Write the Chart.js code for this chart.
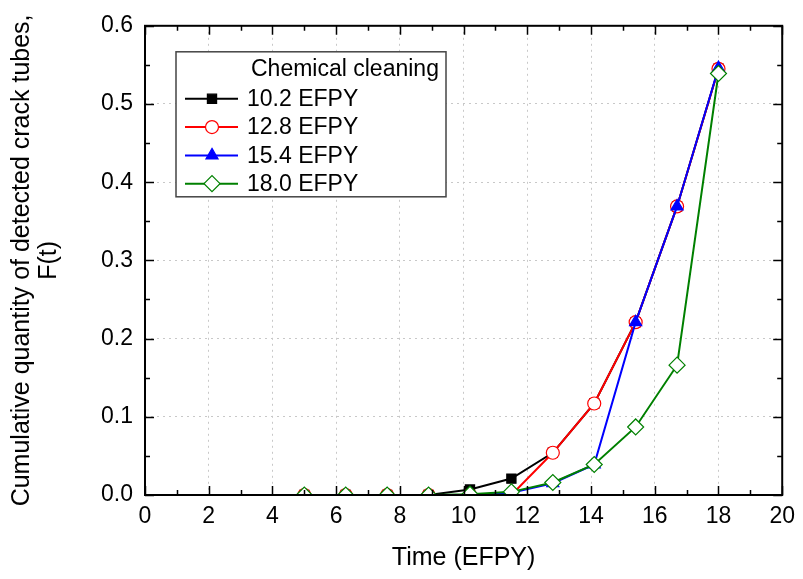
<!DOCTYPE html>
<html>
<head>
<meta charset="utf-8">
<script src="https://cdn.jsdelivr.net/npm/chart.js@4/dist/chart.umd.min.js"></script>
<style>
  body { margin: 0; background: #fff; }
  canvas { display: block; }
</style>
</head>
<body>
<canvas id="chart" width="803" height="579"></canvas>
<script>
// --- Data ---
const timeEfpy = [5.0, 6.3, 7.6, 8.9, 10.2, 11.5, 12.8, 14.1, 15.4, 16.7, 18.0];
const clean102 = [0, 0, 0, 0, 0.007, 0.021, 0.054, 0.117, 0.221, 0.369, 0.545];
const clean128 = [0, 0, 0, 0, 0, 0.000, 0.054, 0.117, 0.221, 0.369, 0.545];
const clean154 = [0, 0, 0, 0, 0, 0.003, 0.015, 0.039, 0.221, 0.369, 0.546];
const clean180 = [0, 0, 0, 0, 0.001, 0.004, 0.016, 0.039, 0.087, 0.166, 0.539];
const xTicks = [0, 2, 4, 6, 8, 10, 12, 14, 16, 18, 20];
const yTicks = [0.0, 0.1, 0.2, 0.3, 0.4, 0.5, 0.6];

const FONT = "'Liberation Sans', Arial, sans-serif";

const toPoints = vals => vals.map((v, i) => ({ x: timeEfpy[i], y: v }));

// Frame + inward ticks on all four sides
const frameTicks = {
  id: 'frameTicks',
  afterDraw(chart) {
    const { ctx, chartArea: a, scales: { x, y } } = chart;
    ctx.save();
    ctx.strokeStyle = '#000';
    ctx.lineWidth = 1.5;
    ctx.beginPath();
    // x: major every 2, minor every 1
    for (let v = 0; v <= 20; v += 1) {
      const px = Math.round(x.getPixelForValue(v)) + 0.5;
      const len = v % 2 === 0 ? 9 : 5;
      ctx.moveTo(px, a.bottom); ctx.lineTo(px, a.bottom - len);
      ctx.moveTo(px, a.top); ctx.lineTo(px, a.top + len);
    }
    // y: major every 0.1, minor every 0.05
    for (let k = 0; k <= 12; k++) {
      const py = Math.round(y.getPixelForValue(k * 0.05)) + 0.5;
      const len = k % 2 === 0 ? 9 : 5;
      ctx.moveTo(a.left, py); ctx.lineTo(a.left + len, py);
      ctx.moveTo(a.right, py); ctx.lineTo(a.right - len, py);
    }
    ctx.stroke();
    ctx.lineWidth = 2;
    ctx.strokeRect(a.left, a.top, a.right - a.left, a.bottom - a.top);
    ctx.restore();
  }
};

// Boxed legend inside the plot, with a title
const boxLegend = {
  id: 'boxLegend',
  afterDraw(chart) {
    const { ctx, chartArea: a } = chart;
    const bx = a.left + 31, by = a.top + 26, bw = 270, bh = 145;
    ctx.save();
    ctx.fillStyle = '#fff';
    ctx.fillRect(bx, by, bw, bh);
    ctx.strokeStyle = '#444';
    ctx.lineWidth = 1.5;
    ctx.strokeRect(bx, by, bw, bh);
    ctx.fillStyle = '#000';
    ctx.font = '23px ' + FONT;
    ctx.textBaseline = 'middle';
    ctx.fillText('Chemical cleaning', bx + 75, by + 18);
    chart.data.datasets.forEach((ds, i) => {
      const cy = by + 47 + i * 28.3;
      ctx.strokeStyle = ds.borderColor;
      ctx.lineWidth = 2;
      ctx.beginPath();
      ctx.moveTo(bx + 9, cy); ctx.lineTo(bx + 62, cy);
      ctx.stroke();
      ctx.fillStyle = ds.pointBackgroundColor;
      ctx.strokeStyle = ds.borderColor;
      ctx.lineWidth = 1.2;
      Chart.helpers.drawPoint(ctx, { pointStyle: ds.pointStyle, radius: ds.pointRadius, borderWidth: 1.2 }, bx + 36, cy);
      ctx.fillStyle = '#000';
      ctx.fillText(ds.label, bx + 71, cy + 1);
    });
    ctx.restore();
  }
};

new Chart(document.getElementById('chart'), {
  type: 'line',
  data: {
    datasets: [
      { label: '10.2 EFPY', data: toPoints(clean102), borderColor: '#000000', pointBackgroundColor: '#000000',
        pointStyle: 'rect', pointRadius: 6.5, order: 4 },
      { label: '12.8 EFPY', data: toPoints(clean128), borderColor: '#ff0000', pointBackgroundColor: '#ffffff',
        pointStyle: 'circle', pointRadius: 6.5, order: 3 },
      { label: '15.4 EFPY', data: toPoints(clean154), borderColor: '#0000ff', pointBackgroundColor: '#0000ff',
        pointStyle: 'triangle', pointRadius: 7, order: 2 },
      { label: '18.0 EFPY', data: toPoints(clean180), borderColor: '#008000', pointBackgroundColor: '#ffffff',
        pointStyle: 'rectRot', pointRadius: 8, order: 1 }
    ]
  },
  options: {
    responsive: false,
    animation: false,
    devicePixelRatio: 1,
    layout: { padding: { top: 24, right: 17, left: 0, bottom: 0 } },
    elements: {
      line: { borderWidth: 2, tension: 0 },
      point: { borderWidth: 1.2, hoverRadius: 7 }
    },
    plugins: {
      legend: { display: false },
      tooltip: { enabled: false }
    },
    scales: {
      x: {
        type: 'linear', min: 0, max: 20,
        afterFit: s => { s.height = 84; },
        afterBuildTicks: s => { s.ticks = xTicks.map(v => ({ value: v })); },
        ticks: { color: '#000', font: { size: 23, family: FONT }, padding: 8, maxRotation: 0 },
        grid: { color: '#c8c8c8', lineWidth: 1, drawTicks: false },
        border: { display: false, dash: [2, 4] },
        title: { display: true, text: 'Time (EFPY)', color: '#000',
                 font: { size: 25, family: FONT }, padding: { top: 0, bottom: 6 } }
      },
      y: {
        min: 0, max: 0.6,
        afterFit: s => { s.width = 145; },
        afterBuildTicks: s => { s.ticks = yTicks.map(v => ({ value: v })); },
        ticks: { color: '#000', font: { size: 23, family: FONT }, padding: 12,
                 callback: v => v.toFixed(1) },
        grid: { color: '#c8c8c8', lineWidth: 1, drawTicks: false },
        border: { display: false, dash: [2, 4] },
        title: { display: true, text: ['Cumulative quantity of detected crack tubes,', 'F(t)'], color: '#000',
                 font: { size: 25, family: FONT, lineHeight: 1.1 }, padding: { top: 8, bottom: 0 } }
      }
    }
  },
  plugins: [frameTicks, boxLegend]
});
</script>
</body>
</html>
